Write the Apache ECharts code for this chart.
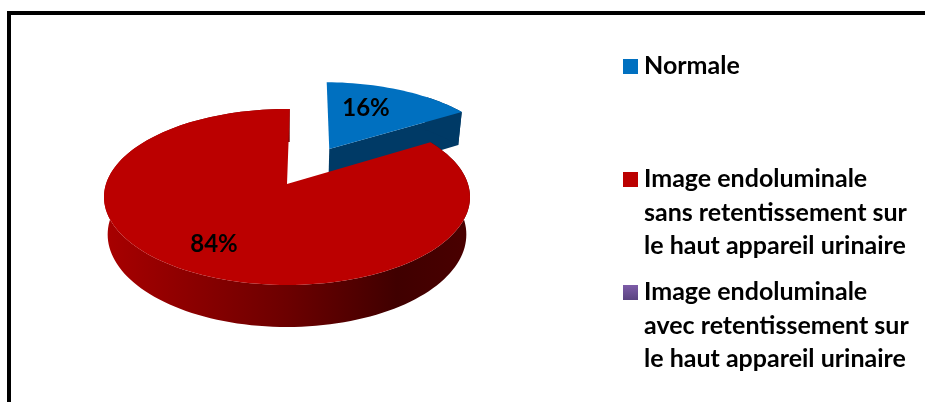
<!DOCTYPE html>
<html>
<head>
<meta charset="utf-8">
<style>
  html, body { margin: 0; padding: 0; background: #fff; }
  #chart { width: 925px; height: 402px; }
</style>
<script src="https://cdn.jsdelivr.net/npm/echarts@6/dist/echarts.min.js"></script>
</head>
<body>
<div id="chart"></div>
<script>
const categories = [
  'Normale',
  'Image endoluminale\nsans retentissement sur\nle haut appareil urinaire',
  'Image endoluminale\navec retentissement sur\nle haut appareil urinaire'
]
const values = [16, 84, 0]
const explode = [0.5, 0, 0]

const topColors = ['#0070c0', '#bb0000', '#6a4f94']
const legendY = [59, 172, 285]
const labelPos = [[366, 108], [214, 244]]

const FONT = 'Lato, Carlito, Calibri, sans-serif'

// ellipse du plateau + perspective (a = décalage du centre vers le haut)
const CX = 287, CY = 197, RX = 183, RY = 88, PERSP = 0.148
const START_DEG = 1

// cercle unité -> écran ; h = 0 dessus, h = 1 dessous
const project = (u, v, h) => {
  const d = 1 + PERSP * v
  const s = (v + PERSP) / d
  const x = u * Math.sqrt(1 - PERSP * PERSP) / d
  if (h) {
    return [CX + RX * x * 0.98, CY - RY * s + 37.5 - 4.5 * s]
  }
  return [CX + RX * x, CY - RY * s]
}

const arcPoints = (a0, a1, ox, oy, h) => {
  const pts = []
  const n = Math.max(2, Math.ceil((a1 - a0) / 2))
  for (let i = 0; i <= n; i++) {
    const a = (a0 + (a1 - a0) * i / n) * Math.PI / 180
    pts.push(project(ox + Math.sin(a), oy + Math.cos(a), h))
  }
  return pts
}

const angleOf = (idx) => {
  const total = values.reduce((a, b) => a + b, 0)
  let sum = 0
  for (let i = 0; i < idx; i++) sum += values[i]
  return [START_DEG + sum / total * 360, START_DEG + (sum + values[idx]) / total * 360]
}

const renderSlice = (params, api) => {
  const i = params.dataIndex
  const v = api.value(0)
  if (!v) return null

  const [a0, a1] = angleOf(i)
  const mid = (a0 + a1) / 2 * Math.PI / 180
  const ox = explode[i] * Math.sin(mid)
  const oy = explode[i] * Math.cos(mid)

  const topArc = arcPoints(a0, a1, ox, oy, 0)
  const apexTop = project(ox, oy, 0)
  const apexBot = project(ox, oy, 1)
  const children = []

  if (i === 0) {
    // part détachée : seule la fin de l'arc et la face coupée se voient
    const wallTop = arcPoints(a0 + (a1 - a0) * 0.7, a1, ox, oy, 0)
    const wallBot = arcPoints(a0 + (a1 - a0) * 0.7, a1, ox, oy, 1)
    children.push({
      type: 'polygon',
      shape: { points: [apexTop, wallTop[wallTop.length - 1], wallBot[wallBot.length - 1], apexBot] },
      style: { fill: '#003a66' }
    })
    children.push({
      type: 'polygon',
      shape: { points: wallTop.concat(wallBot.slice().reverse()) },
      style: { fill: '#003a66' }
    })
  } else {
    const botArc = arcPoints(a0, a1, ox, oy, 1)
    children.push({
      type: 'polygon',
      shape: { points: topArc.concat(botArc.slice().reverse()) },
      style: {
        fill: new echarts.graphic.LinearGradient(0, 0, 1, 0, [
          { offset: 0, color: '#a80000' },
          { offset: 0.5, color: '#6c0000' },
          { offset: 0.8, color: '#400000' },
          { offset: 1, color: '#4a0000' }
        ])
      }
    })
  }

  children.push({
    type: 'polygon',
    shape: { points: [apexTop].concat(topArc) },
    style: { fill: topColors[i] }
  })

  children.push({
    type: 'text',
    style: {
      text: v + '%',
      x: labelPos[i][0],
      y: labelPos[i][1],
      align: 'center',
      verticalAlign: 'middle',
      font: 'bold 24px ' + FONT,
      fill: '#000'
    }
  })

  return { type: 'group', children }
}

const legendGraphics = []
categories.forEach((name, i) => {
  legendGraphics.push({
    type: 'rect',
    shape: { x: 623, y: legendY[i], width: 15, height: 15 },
    style: {
      fill: i === 2
        ? new echarts.graphic.LinearGradient(0, 0, 0, 1, [
          { offset: 0, color: '#7d5ca8' },
          { offset: 1, color: '#5a4380' }
        ])
        : topColors[i]
    }
  })
  legendGraphics.push({
    type: 'text',
    style: {
      text: name,
      x: 644,
      y: legendY[i] + 7.5 - 17,
      font: 'bold 25px ' + FONT,
      lineHeight: 33.5,
      fill: '#000'
    }
  })
})

const chart = echarts.init(document.getElementById('chart'), null, { renderer: 'canvas' })
chart.setOption({
  animation: false,
  backgroundColor: '#fff',
  graphic: [
    {
      type: 'rect',
      shape: { x: 9, y: 13, width: 1200, height: 800 },
      style: { fill: 'none', stroke: '#000', lineWidth: 4 }
    }
  ].concat(legendGraphics),
  series: [
    {
      type: 'custom',
      coordinateSystem: 'none',
      renderItem: renderSlice,
      silent: true,
      data: values.map((v, i) => ({ name: categories[i], value: [v] }))
    }
  ]
})
</script>
</body>
</html>
